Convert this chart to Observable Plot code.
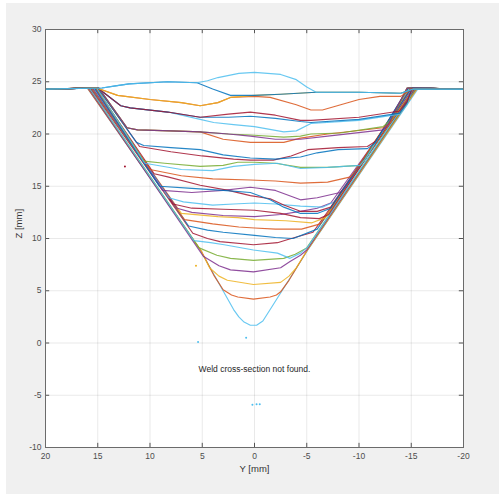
<!DOCTYPE html>
<html><head><meta charset="utf-8">
<script src="https://cdn.jsdelivr.net/npm/d3@7"></script>
<script src="https://cdn.jsdelivr.net/npm/@observablehq/plot@0.6"></script>
<style>
html,body{margin:0;padding:0;background:#fff;}
#wrap{position:relative;width:499px;height:495px;overflow:hidden;}
#fig{position:absolute;left:6px;top:3px;width:493px;height:491px;background:#f0f0f0;}
#chart{position:absolute;left:0;top:0;}
</style></head><body>
<div id="wrap"><div id="fig"></div><div id="chart"></div></div>
<script>
// Tick values
const xTicks = [20, 15, 10, 5, 0, -5, -10, -15, -20];
const yTicks = [-10, -5, 0, 5, 10, 15, 20, 25, 30];

// MATLAB colour order
const cBlue = "#0072BD", cOrange = "#D95319", cYellow = "#EDB120", cPurple = "#7E2F8E",
      cGreen = "#77AC30", cCyan = "#4DBEEE", cRed = "#A2142F";

// Profiles [Y mm, Z mm], drawn in order (first = bottom)
const p01 = [[20,24.3],[16.0,24.4],[5.2,8.9],[2.0,3.2],[1.5,2.5],[1.0,2.0],[0.4,1.7],[-0.2,1.7],[-0.8,2.1],[-1.5,3.2],[-5.1,8.9],[-15.7,24.4],[-20,24.3]];
const p02 = [[20,24.3],[16.0,24.4],[5.1,8.8],[3.9,6.5],[3.0,5.1],[2.2,4.6],[1.6,4.4],[0.1,4.2],[-1.5,4.4],[-2.1,4.6],[-2.5,4.9],[-3.3,6.0],[-5.0,8.8],[-15.6,24.4],[-20,24.3]];
const p03 = [[20,24.3],[15.9,24.4],[5.1,8.8],[4.3,7.2],[3.4,6.4],[2.6,6.0],[0.1,5.6],[-2.5,5.8],[-3.3,6.4],[-4.0,7.2],[-5.0,8.8],[-15.6,24.4],[-20,24.3]];
const p04 = [[20,24.3],[15.9,24.4],[4.9,8.3],[3.4,7.4],[2.3,7.0],[0.1,6.8],[-2.5,7.2],[-3.4,7.8],[-4.4,8.4],[-5.0,8.9],[-15.5,24.4],[-20,24.3]];
const p05 = [[20,24.3],[15.8,24.4],[5.3,9.1],[3.6,8.4],[2.3,8.1],[0.1,7.9],[-2.8,8.1],[-3.9,8.5],[-5.0,9.1],[-15.5,24.4],[-20,24.3]];
const p06 = [[20,24.3],[15.8,24.4],[5.8,9.8],[4.2,9.6],[2.9,9.4],[0.1,8.9],[-2.2,8.6],[-3.4,8.1],[-4.4,8.6],[-5.1,9.2],[-15.4,24.4],[-20,24.3]];
const p07 = [[20,24.3],[15.7,24.4],[5.9,10.5],[4.5,10.0],[3.3,9.7],[0.1,9.4],[-2.2,9.6],[-3.2,9.9],[-5.6,10.6],[-15.4,24.4],[-20,24.3]];
const p08 = [[20,24.3],[15.6,24.4],[6.3,11.2],[4.5,10.8],[3.0,10.6],[0.0,10.3],[-2.0,10.1],[-3.7,10.0],[-6.0,10.9],[-15.3,24.4],[-20,24.3]];
const p09 = [[20,24.3],[15.6,24.4],[6.7,11.8],[4.0,11.4],[1.5,11.1],[0,11.0],[-2,10.9],[-4.5,10.9],[-6.3,11.4],[-15.3,24.4],[-20,24.3]];
const p10 = [[20,24.3],[15.5,24.4],[7.0,12.4],[3.5,12.1],[1.6,12.0],[0,11.8],[-3,11.7],[-5.5,11.5],[-6.8,12.0],[-15.2,24.4],[-20,24.3]];
const p11 = [[20,24.3],[15.5,24.4],[7.4,12.9],[6.0,12.5],[3,12.2],[0,12.1],[-2.5,12.3],[-4.4,12.6],[-6.0,12.9],[-7.3,13.4],[-15.2,24.4],[-20,24.3]];
const p12 = [[20,24.3],[15.4,24.4],[7.8,13.3],[6,12.9],[3,12.8],[0,12.7],[-2.5,12.4],[-4.4,12.0],[-6.2,11.9],[-7.1,12.3],[-15.1,24.4],[-20,24.3]];
const p13 = [[20,24.3],[15.4,24.4],[8.2,13.9],[6.8,13.5],[4,13.2],[2,13.3],[0,13.4],[-2,13.3],[-4.4,13.1],[-6.5,13.0],[-7.6,13.5],[-15.1,24.4],[-20,24.3]];
const p14 = [[20,24.3],[15.3,24.4],[8.8,14.6],[6,14.4],[3,14.6],[0.4,14.9],[-2,14.6],[-4.4,13.7],[-6.0,13.9],[-8.2,14.4],[-8.7,14.9],[-15.0,24.4],[-20,24.3]];
const p15 = [[20,24.3],[15.2,24.4],[9.6,16.2],[8.3,15.9],[5.2,15.1],[2.5,14.6],[0.4,14.1],[-1.5,13.8],[-2.8,13.2],[-4.4,12.6],[-6.0,12.6],[-7.3,13.0],[-15.0,24.4],[-20,24.3]];
const p16 = [[20,24.3],[15.3,24.4],[9.1,15.0],[6,14.8],[3,14.6],[0.4,14.4],[-1.5,13.7],[-2.8,13.0],[-4.4,12.4],[-6.0,12.4],[-7.3,12.9],[-15.0,24.4],[-20,24.3]];
const p17 = [[20,24.3],[15.2,24.4],[10.0,16.6],[7,16.0],[4,15.7],[0.4,15.6],[-2,15.5],[-4.4,15.3],[-7,15.4],[-9.2,15.9],[-9.6,16.4],[-14.9,24.4],[-20,24.3]];
const p18 = [[20,24.3],[15.1,24.4],[10.6,17.4],[8.6,17.2],[5.2,16.9],[3,17.0],[1.6,17.3],[0,17.3],[-2,17.2],[-4.4,16.8],[-7,16.8],[-10.1,17.0],[-10.5,17.5],[-14.8,24.4],[-20,24.3]];
const p19 = [[20,24.3],[15.1,24.4],[10.5,17.2],[7,16.6],[4,16.5],[2,16.9],[0,17.1],[-2.2,17.2],[-4.4,16.7],[-7,16.8],[-10.1,17.0],[-10.6,17.6],[-14.8,24.4],[-20,24.3]];
const p20 = [[20,24.3],[15.0,24.4],[11.0,18.8],[8,18.3],[5,17.9],[2,17.6],[0.4,17.5],[-1.8,17.5],[-3.5,17.9],[-5.1,18.5],[-8,18.7],[-10.8,18.8],[-11.6,19.3],[-14.7,24.4],[-20,24.3]];
const p21 = [[20,24.3],[15.0,24.4],[11.3,19.2],[10.6,18.9],[8,18.7],[5.2,18.5],[3,18.0],[0.4,17.7],[-2,17.6],[-4.4,17.8],[-6,18.2],[-8,18.5],[-10.8,18.6],[-11.5,19.1],[-14.7,24.4],[-20,24.3]];
const p22 = [[20,24.3],[14.9,24.4],[12.2,20.6],[11.2,20.4],[8,20.3],[5.2,20.2],[3,19.5],[0.4,19.2],[-2.8,19.2],[-4.4,19.6],[-7,20.0],[-12.3,20.6],[-12.9,21.0],[-14.6,24.4],[-20,24.3]];
const p23 = [[20,24.3],[14.9,24.4],[12.2,20.6],[11.2,20.4],[8,20.3],[5.2,20.2],[2.5,20.0],[0.4,19.9],[-2.8,19.7],[-4.4,19.8],[-5.4,20.0],[-8.2,20.1],[-12.3,20.7],[-13.2,21.5],[-14.6,24.4],[-20,24.3]];
const p24 = [[20,24.3],[14.9,24.4],[12.2,20.6],[11.2,20.4],[8,20.3],[5.2,20.2],[2.5,20.0],[0.4,19.8],[-2,19.5],[-4.4,19.5],[-7,19.8],[-12.3,20.4],[-12.8,20.9],[-14.6,24.4],[-20,24.3]];
const p25 = [[20,24.3],[15.0,24.4],[12.8,22.7],[11.9,22.5],[8.3,22.1],[5.2,21.4],[3.9,21.1],[2,20.9],[0,20.7],[-2.8,20.2],[-4.0,20.3],[-5.4,21.0],[-10,21.3],[-13.9,21.9],[-14.6,22.8],[-15.1,24.4],[-20,24.3]];
const p26 = [[20,24.3],[15.0,24.4],[12.8,22.7],[11.9,22.5],[8.3,22.1],[5.2,21.6],[2.5,21.6],[0.4,21.7],[-2,21.5],[-4.4,21.2],[-5.4,21.1],[-10,21.4],[-13.9,22.0],[-14.6,23.0],[-15.1,24.4],[-20,24.3]];
const p27 = [[20,24.3],[15.0,24.4],[12.8,22.7],[11.9,22.5],[8.3,22.1],[5.2,21.6],[2.5,21.9],[0.4,22.1],[-2,21.8],[-4.4,21.3],[-5.4,21.3],[-10,21.6],[-13.9,22.2],[-14.6,23.1],[-15.1,24.4],[-20,24.3]];
const p28 = [[20,24.3],[15.1,24.4],[13.1,23.7],[10,23.3],[7,23.0],[5.2,22.7],[3.5,23.0],[2.3,23.5],[0,23.6],[-1.5,23.5],[-4,22.8],[-5.4,22.3],[-6.5,22.3],[-10,23.3],[-12,23.6],[-14,23.6],[-15.0,24.3],[-20,24.3]];
const p29 = [[20,24.3],[15.1,24.4],[13.1,23.7],[10,23.3],[7,23.0],[5.2,22.7],[3.5,23.0],[2.3,23.5],[0,23.7],[-2.5,23.8],[-5.9,24.0],[-10,24.0],[-14,23.9],[-15.2,24.3],[-20,24.3]];
const p30 = [[20,24.3],[14.6,24.4],[13.3,24.6],[12,24.8],[8.3,25.0],[5.5,24.9],[4.0,24.3],[2.3,23.7],[0,23.7],[-2.5,23.8],[-5.9,24.0],[-10,24.0],[-14.0,23.9],[-15.2,24.3],[-20,24.3]];
const p31 = [[20,24.3],[14.6,24.4],[13.3,24.6],[12,24.8],[8.3,25.0],[5.5,24.9],[4.5,25.1],[3.5,25.4],[1.5,25.8],[0,25.9],[-2.5,25.7],[-4.0,25.2],[-5.0,24.5],[-5.9,24.0],[-10,24.0],[-14.0,23.9],[-15.2,24.3],[-20,24.3]];

const profiles = [p01,p02,p03,p04,p05,p06,p07,p08,p09,p10,p11,p12,p13,p14,p15,p16,p17,p18,p19,p20,p21,p22,p23,p24,p25,p26,p27,p28,p29,p30,p31];
const profileColors = [cCyan,cOrange,cYellow,cPurple,cGreen,cCyan,cRed,cBlue,cOrange,cYellow,cPurple,cRed,cCyan,cPurple,cRed,cBlue,cOrange,cGreen,cCyan,cRed,cBlue,cOrange,cGreen,cPurple,cCyan,cBlue,cRed,cOrange,cYellow,cBlue,cCyan];

// Stray scan points
const strayY = [5.4, 0.8, 12.4, 5.6, 0.2, -0.2, -0.5];
const strayZ = [0.1, 0.5, 16.9, 7.4, -5.9, -5.85, -5.85];
const strayColors = [cCyan, cCyan, cRed, cYellow, cCyan, cCyan, cCyan];

// Annotation
const noteText = ["Weld cross-section not found."];
const noteY = [0];
const noteZ = [-2.5];

const lineMarks = profiles.map((pts, i) => Plot.line(pts, {
  x: d => d[0], y: d => d[1], stroke: profileColors[i],
  strokeWidth: 1.15, strokeOpacity: 0.85, strokeLinejoin: "round"
}));

const strayIdx = strayY.map((_, i) => i);

const chart = Plot.plot({
  width: 499, height: 495,
  marginLeft: 45, marginRight: 36, marginTop: 29, marginBottom: 48,
  x: {domain: [20, -20]},
  y: {domain: [-10, 30]},
  style: {background: "transparent", fontFamily: "'Liberation Sans', Arial, sans-serif", fontSize: "8.5px", color: "#4d4d4d"},
  marks: [
    Plot.frame({fill: "white", stroke: "none"}),
    Plot.gridX(xTicks, {stroke: "#262626", strokeOpacity: 0.1}),
    Plot.gridY(yTicks, {stroke: "#262626", strokeOpacity: 0.1}),
    ...lineMarks,
    Plot.dot(strayIdx, {x: i => strayY[i], y: i => strayZ[i], fill: i => strayColors[i], r: 1, stroke: "none"}),
    Plot.text(noteText, {x: (d, i) => noteY[i], y: (d, i) => noteZ[i], text: d => d, fill: "#262626", fontSize: 8.5}),
    Plot.ruleX(xTicks, {x: d => d, y1: -10, y2: -9.6, stroke: "#555"}),
    Plot.ruleX(xTicks, {x: d => d, y1: 30, y2: 29.6, stroke: "#555"}),
    Plot.ruleY(yTicks, {y: d => d, x1: 20, x2: 19.6, stroke: "#555"}),
    Plot.ruleY(yTicks, {y: d => d, x1: -20, x2: -19.6, stroke: "#555"}),
    Plot.frame({stroke: "#6b6b6b"}),
    Plot.axisX(xTicks, {tickSize: 0, tickPadding: 5, tickFormat: d => String(d), label: null}),
    Plot.axisY(yTicks, {tickSize: 0, tickPadding: 4, tickFormat: d => String(d), label: null}),
    Plot.text(["Y [mm]"], {frameAnchor: "bottom", dy: 24, fontSize: 9.5, fill: "#333"}),
    Plot.text(["Z [mm]"], {frameAnchor: "left", dx: -27, rotate: -90, fontSize: 9.5, fill: "#333"})
  ]
});
document.getElementById("chart").appendChild(chart);
</script>
</body></html>
